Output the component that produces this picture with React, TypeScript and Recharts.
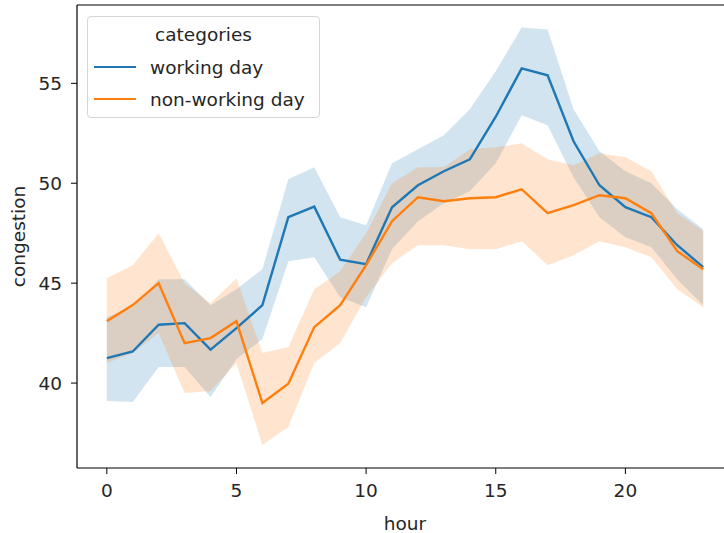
import {
  ComposedChart,
  Line,
  Area,
  XAxis,
  YAxis,
  Legend,
  ReferenceLine,
} from "recharts";

const HOURS = [0, 1, 2, 3, 4, 5, 6, 7, 8, 9, 10, 11, 12, 13, 14, 15, 16, 17, 18, 19, 20, 21, 22, 23];

const WORKING = [41.25, 41.58, 42.92, 43.0, 41.67, 42.75, 43.9, 48.3, 48.83, 46.17, 45.95, 48.8, 49.9, 50.6, 51.2, 53.33, 55.75, 55.4, 52.1, 49.9, 48.8, 48.3, 46.9, 45.8];
const WORKING_LOW = [39.1, 39.05, 40.8, 40.8, 39.3, 41.2, 42.2, 46.1, 46.3, 44.3, 43.8, 46.7, 48.1, 49.0, 49.6, 51.0, 53.4, 52.9, 50.3, 48.3, 47.3, 46.8, 45.2, 43.9];
const WORKING_HIGH = [43.3, 43.8, 45.2, 45.2, 43.9, 44.7, 45.7, 50.2, 50.8, 48.3, 47.9, 51.0, 51.7, 52.4, 53.7, 55.6, 57.8, 57.7, 53.7, 51.6, 50.6, 50.0, 48.7, 47.7];

const NONWORKING = [43.1, 43.9, 45.0, 42.0, 42.25, 43.1, 39.0, 39.97, 42.8, 43.9, 45.9, 48.1, 49.3, 49.1, 49.25, 49.3, 49.7, 48.5, 48.9, 49.4, 49.25, 48.5, 46.6, 45.7];
const NONWORKING_LOW = [41.0, 41.5, 42.5, 39.5, 39.6, 41.0, 36.9, 37.8, 41.0, 42.0, 44.3, 46.0, 46.9, 46.9, 46.7, 46.7, 47.1, 45.9, 46.4, 47.1, 46.8, 46.3, 44.7, 43.8];
const NONWORKING_HIGH = [45.25, 45.9, 47.5, 45.0, 44.0, 45.25, 41.5, 41.8, 44.7, 45.6, 47.5, 50.0, 50.8, 50.8, 51.7, 51.8, 52.0, 51.2, 50.9, 51.5, 51.3, 50.6, 48.5, 47.6];

const X_TICKS = [0, 5, 10, 15, 20];
const Y_TICKS = [40, 45, 50, 55];
const X_DOMAIN = [-1.15, 24.15];
const Y_DOMAIN = [35.75, 58.92];
const SERIES = [
  { name: "working day", color: "#1f77b4" },
  { name: "non-working day", color: "#ff7f0e" },
];

const data = HOURS.map((h, i) => ({
  hour: h,
  work: WORKING[i],
  workBand: [WORKING_LOW[i], WORKING_HIGH[i]],
  nonwork: NONWORKING[i],
  nonworkBand: [NONWORKING_LOW[i], NONWORKING_HIGH[i]],
}));

const FONT = "'DejaVu Sans', sans-serif";
const TEXT = "#262626";
const FS = 18.5;

function LegendBox() {
  return (
    <div
      style={{
        width: 231,
        height: 100,
        border: "1px solid #d6d6d6",
        borderRadius: 4,
        background: "rgba(255,255,255,0.8)",
        fontFamily: FONT,
        fontSize: FS,
        color: TEXT,
        position: "relative",
      }}
    >
      <div style={{ position: "absolute", top: 7, left: 0, width: "100%", textAlign: "center" }}>
        categories
      </div>
      {SERIES.map((s, i) => (
        <div key={s.name} style={{ position: "absolute", top: 38 + i * 32, left: 6, display: "flex", alignItems: "center", height: 24 }}>
          <div style={{ width: 42, height: 2.5, background: s.color }} />
          <span style={{ marginLeft: 14 }}>{s.name}</span>
        </div>
      ))}
    </div>
  );
}

export default function App() {
  return (
    <div style={{ position: "fixed", top: 0, left: 0, width: 724, height: 533, overflow: "hidden", background: "#fff" }}>
      <ComposedChart width={740} height={533} data={data} margin={{ top: 5, right: 7, bottom: 0, left: 0 }}>
        <XAxis
          dataKey="hour"
          type="number"
          domain={X_DOMAIN}
          ticks={X_TICKS}
          allowDataOverflow
          height={65}
          tickSize={6}
          tickMargin={10}
          axisLine={{ stroke: "#000", strokeWidth: 1.2 }}
          tickLine={{ stroke: "#000" }}
          tick={{ fill: TEXT, fontSize: FS, fontFamily: FONT }}
          label={{ value: "hour", position: "insideBottom", offset: 3, fill: TEXT, fontSize: FS, fontFamily: FONT }}
        />
        <YAxis
          type="number"
          domain={Y_DOMAIN}
          ticks={Y_TICKS}
          allowDataOverflow
          width={77}
          tickSize={6}
          tickMargin={9}
          axisLine={{ stroke: "#000", strokeWidth: 1.2 }}
          tickLine={{ stroke: "#000" }}
          tick={{ fill: TEXT, fontSize: FS, fontFamily: FONT }}
          label={{ value: "congestion", angle: -90, position: "insideLeft", offset: 18, fill: TEXT, fontSize: FS, fontFamily: FONT, style: { textAnchor: "middle" } }}
        />
        <ReferenceLine y={Y_DOMAIN[1]} stroke="#000" strokeWidth={1.2} ifOverflow="extendDomain" />
        <Line dataKey="work" type="linear" stroke={SERIES[0].color} strokeWidth={2.4} dot={false} isAnimationActive={false} />
        <Area dataKey="workBand" type="linear" fill={SERIES[0].color} fillOpacity={0.2} stroke="none" isAnimationActive={false} />
        <Line dataKey="nonwork" type="linear" stroke={SERIES[1].color} strokeWidth={2.4} dot={false} isAnimationActive={false} />
        <Area dataKey="nonworkBand" type="linear" fill={SERIES[1].color} fillOpacity={0.2} stroke="none" isAnimationActive={false} />
        <Legend
          layout="horizontal"
          verticalAlign="middle"
          align="center"
          content={() => <LegendBox />}
          wrapperStyle={{ left: 87, top: 16, width: "auto" }}
        />
      </ComposedChart>
    </div>
  );
}
